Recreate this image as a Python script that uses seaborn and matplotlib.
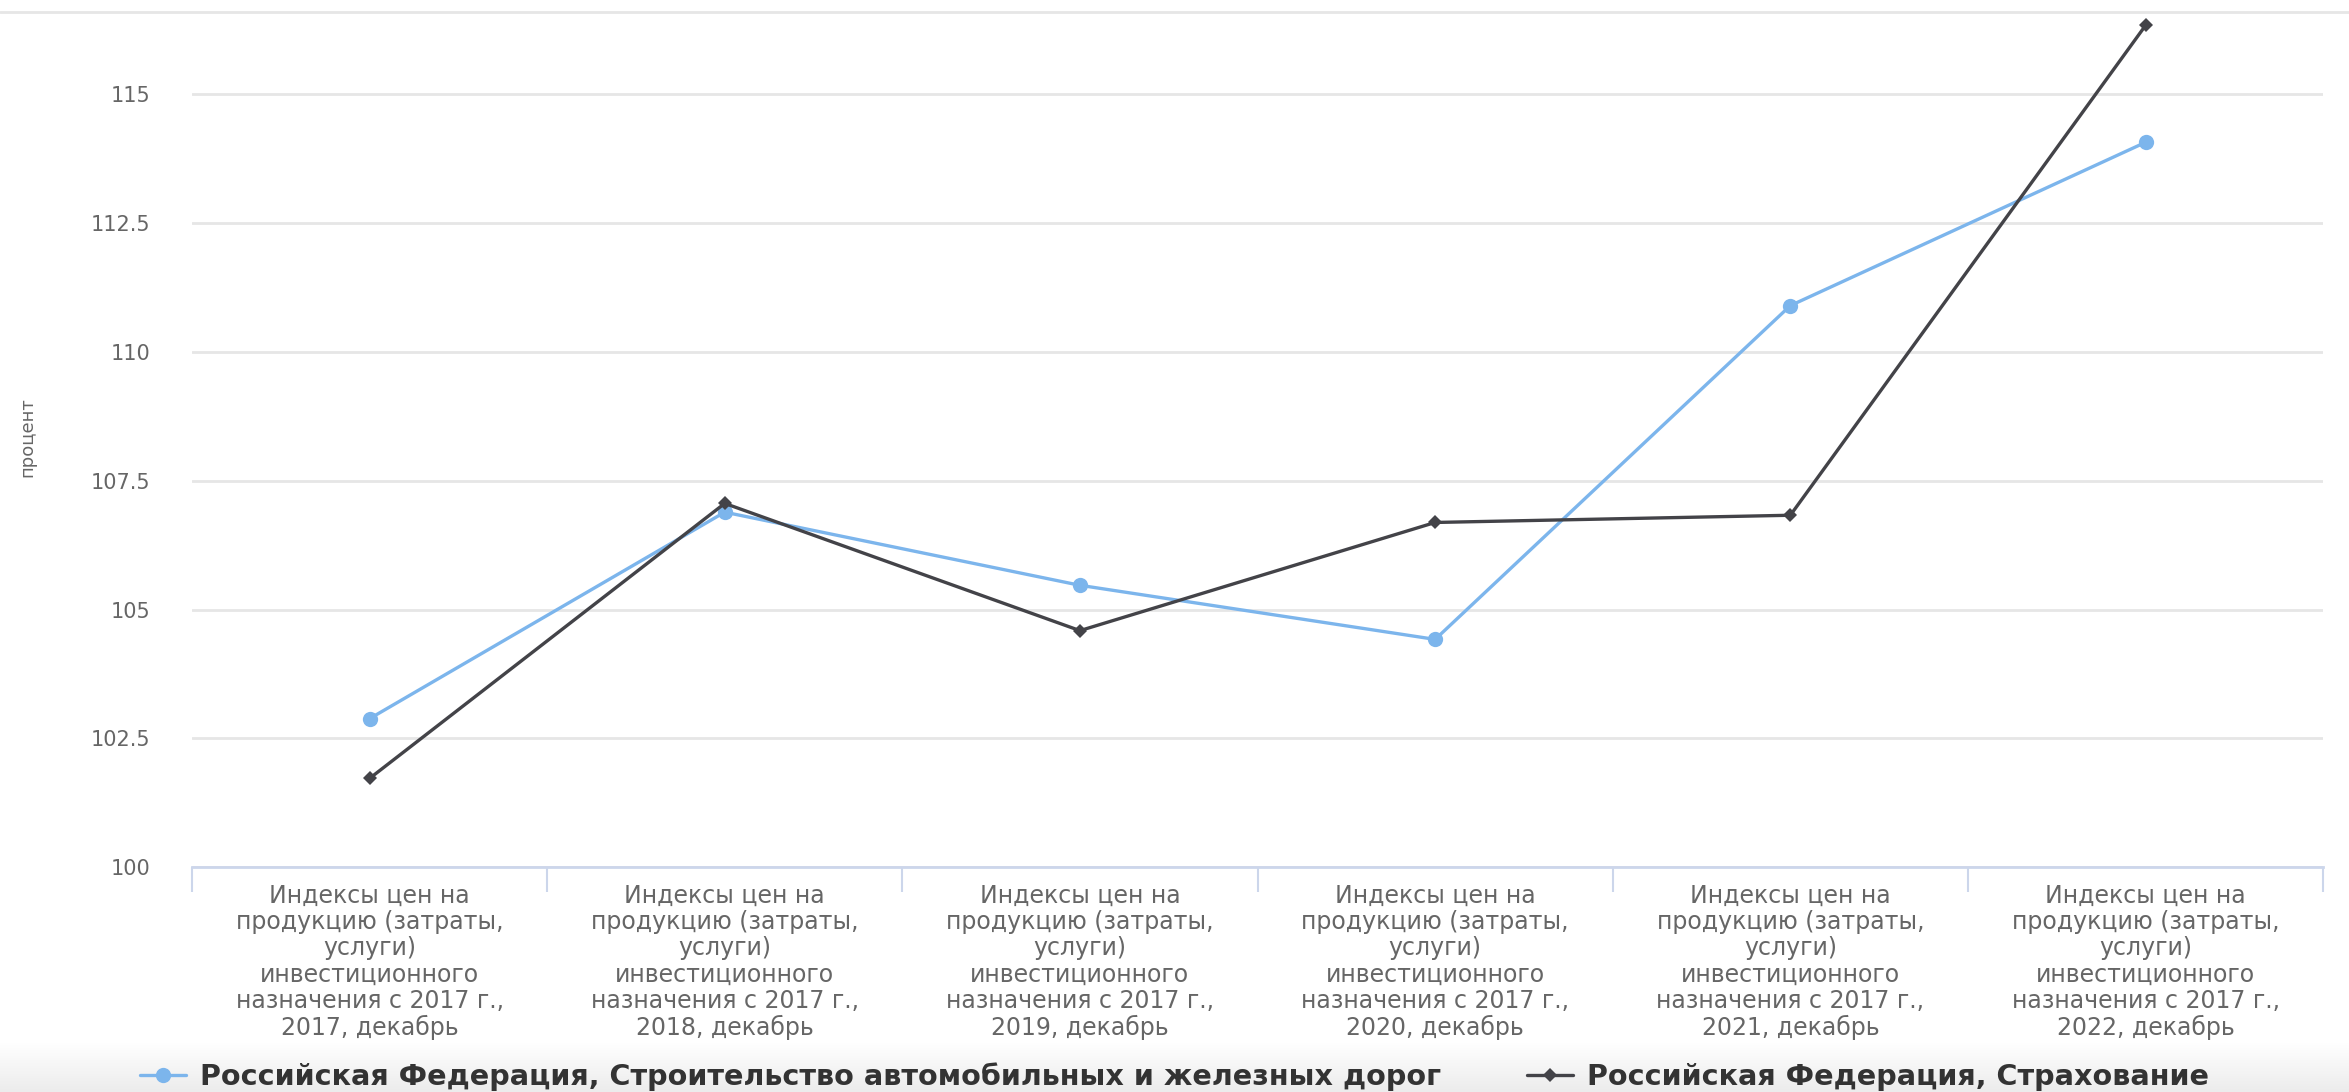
import numpy as np
import pandas as pd
import seaborn as sns
import matplotlib.pyplot as plt
from matplotlib.lines import Line2D
from matplotlib.colors import LinearSegmentedColormap

categories = [
    "Индексы цен на\nпродукцию (затраты,\nуслуги)\nинвестиционного\nназначения с 2017 г.,\n%d, декабрь" % y
    for y in [2017, 2018, 2019, 2020, 2021, 2022]
]
series_names = [
    "Российская Федерация, Строительство автомобильных и железных дорог",
    "Российская Федерация, Страхование",
]
roads = [102.88, 106.89, 105.47, 104.42, 110.90, 114.07]
insurance = [101.72, 107.06, 104.59, 106.69, 106.83, 116.34]
yticks = [100, 102.5, 105, 107.5, 110, 112.5, 115]
colors = ["#7cb5ec", "#434348"]

df = pd.DataFrame({
    "cat": categories * 2,
    "value": roads + insurance,
    "series": [series_names[0]] * 6 + [series_names[1]] * 6,
})

sns.set_style("white")
plt.rcParams['font.family'] = ['DejaVu Sans']

fig = plt.figure(figsize=(23.49, 10.92), dpi=100)
ax = fig.add_axes([0.0817, 0.206, 0.9073, 0.783])

sns.lineplot(data=df, x="cat", y="value", hue="series", style="series",
             palette=colors, markers={series_names[0]: "o", series_names[1]: "D"},
             dashes=False, linewidth=2.4, markeredgewidth=0, ax=ax, sort=False)
for line, ms in zip(ax.lines, [11, 7]):
    line.set_markersize(ms)

handles, labels = ax.get_legend_handles_labels()
ax.get_legend().remove()
for h, ms in zip(handles, [11, 7]):
    h.set_markersize(ms)
    h.set_linewidth(2.4)

ax.set_xlim(-0.5, 5.5)
ax.set_ylim(100, 116.6)
ax.set_yticks(yticks)
ax.set_yticklabels(["{:g}".format(v) for v in yticks])
ax.yaxis.grid(True, color="#e6e6e6", linewidth=2)
ax.set_axisbelow(True)

ax.set_xticks(range(len(categories)))
ax.set_xticklabels(categories, fontsize=17, color="#666666", linespacing=1.12)
ax.set_xticks(np.arange(-0.5, 6, 1), minor=True)
ax.tick_params(axis="x", which="both", bottom=True)
ax.tick_params(axis="x", which="major", length=0, pad=12)
ax.tick_params(axis="x", which="minor", length=18, width=1.5, color="#ccd6eb")
ax.tick_params(axis="y", length=0, pad=30, labelsize=15, labelcolor="#666666")

for s in ["top", "right", "left"]:
    ax.spines[s].set_visible(False)
ax.spines["bottom"].set_color("#ccd6eb")
ax.spines["bottom"].set_linewidth(2)
ax.set_xlabel("")
ax.set_ylabel("")

fig.text(0.0115, 0.6, "процент", rotation=90, ha="center", va="center",
         fontsize=13, color="#666666")

# container top border
fig.add_artist(Line2D([0, 1], [0.989, 0.989], color="#e6e6e6", linewidth=2))

# legend strip with light gradient
bg = fig.add_axes([0, 0, 1, 0.045], zorder=-1)
grad = LinearSegmentedColormap.from_list("g", ["#ffffff", "#ececec"])
bg.imshow(np.linspace(0, 1, 50).reshape(-1, 1), aspect="auto", cmap=grad,
          vmin=0, vmax=1, extent=[0, 1, 0, 1])
bg.axis("off")

fig.legend(handles, labels, loc="center", bbox_to_anchor=(0.5, 0.014), ncol=2,
           frameon=False, prop={"weight": "bold", "size": 20.6}, handlelength=1.6,
           columnspacing=3, handletextpad=0.5, labelcolor="#333333")

fig.savefig("out.png", dpi=100)
